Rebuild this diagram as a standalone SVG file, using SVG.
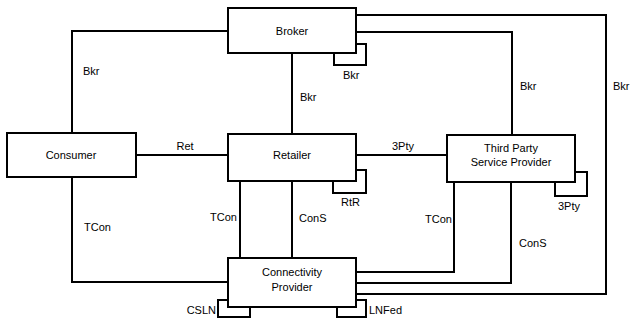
<svg xmlns="http://www.w3.org/2000/svg" width="632" height="320" viewBox="0 0 632 320">
<style>
.ln{fill:none;stroke:#000;stroke-width:2}
.lp{fill:none;stroke:#000;stroke-width:2}
.nd{fill:#fff;stroke:#000;stroke-width:2}
text{font-family:"Liberation Sans",Arial,sans-serif;font-size:11px;fill:#000}
.c{text-anchor:middle}
.e{text-anchor:end}
</style>
<rect width="632" height="320" fill="#fff"/>
<g id="connectors">
<polyline class="ln" points="72,133 72,31 228,31"/>
<line class="ln" x1="292" y1="53" x2="292" y2="134"/>
<polyline class="ln" points="356,32 512,32 512,135"/>
<polyline class="ln" points="356,15 606,15 606,294 356,294"/>
<line class="ln" x1="136" y1="155" x2="228" y2="155"/>
<line class="ln" x1="356" y1="155" x2="447" y2="155"/>
<polyline class="ln" points="72,177 72,282 228,282"/>
<line class="ln" x1="240" y1="181" x2="240" y2="258"/>
<line class="ln" x1="292" y1="181" x2="292" y2="258"/>
<polyline class="ln" points="454,182 454,272 356,272"/>
<polyline class="ln" points="511,182 511,283 356,283"/>
<rect class="lp" x="334" y="44" width="32" height="21"/>
<rect class="lp" x="333" y="170" width="33" height="23"/>
<rect class="lp" x="555" y="172" width="32" height="24"/>
<rect class="lp" x="218" y="300" width="32" height="17"/>
<rect class="lp" x="337" y="300" width="29" height="17"/>
<text x="83" y="75">Bkr</text>
<text x="300" y="101">Bkr</text>
<text x="343" y="79">Bkr</text>
<text x="520" y="90">Bkr</text>
<text x="613" y="90">Bkr</text>
<text class="c" x="185" y="150">Ret</text>
<text class="c" x="403" y="150">3Pty</text>
<text x="341" y="206">RtR</text>
<text x="558" y="210">3Pty</text>
<text x="84" y="231">TCon</text>
<text class="e" x="237" y="221">TCon</text>
<text x="299" y="222">ConS</text>
<text class="e" x="452" y="223">TCon</text>
<text x="519" y="247">ConS</text>
<text class="e" x="216" y="314">CSLN</text>
<text x="369" y="314">LNFed</text>
</g>
<g id="broker">
<rect class="nd" x="228" y="8" width="128" height="45"/>
<text class="c" x="292" y="35">Broker</text>
</g>
<g id="consumer">
<rect class="nd" x="7" y="133" width="129" height="44"/>
<text class="c" x="71" y="159">Consumer</text>
</g>
<g id="retailer">
<rect class="nd" x="228" y="134" width="128" height="47"/>
<text class="c" x="292" y="159">Retailer</text>
</g>
<g id="third-party">
<rect class="nd" x="447" y="135" width="128" height="47"/>
<text class="c" x="511" y="152">Third Party</text>
<text class="c" x="511" y="166">Service Provider</text>
</g>
<g id="connectivity-provider">
<rect class="nd" x="228" y="258" width="128" height="49"/>
<text class="c" x="292" y="276">Connectivity</text>
<text class="c" x="292" y="291">Provider</text>
</g>
</svg>
